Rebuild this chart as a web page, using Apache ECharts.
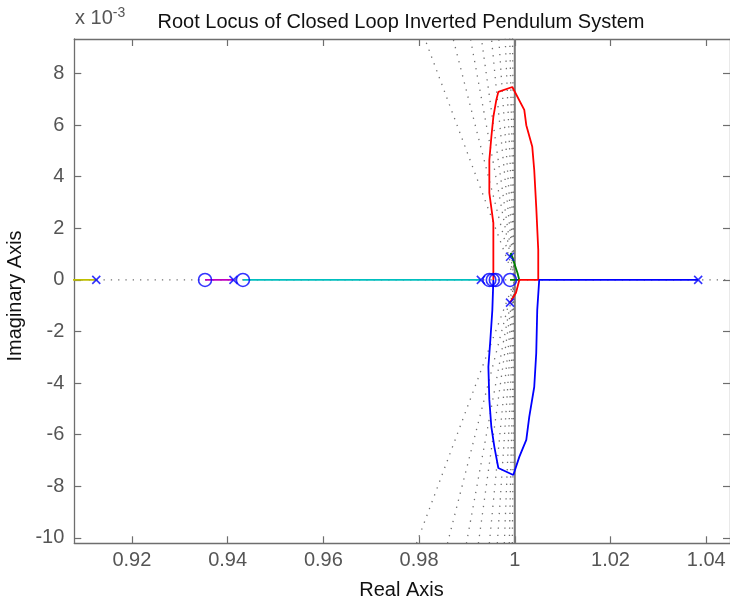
<!DOCTYPE html>
<html>
<head>
<meta charset="utf-8">
<script src="https://cdn.jsdelivr.net/npm/echarts@6/dist/echarts.min.js"></script>
<style>
html,body{margin:0;padding:0;background:#fff;}
#c{width:730px;height:604px;}
</style>
</head>
<body>
<div id="c"></div>
<script>
// ---- axis ranges and ticks (y in units of 1e-3) ----
const xRange = [0.90797, 1.04496];
const yRange = [-10.21, 9.34];
const xTicks = [0.92, 0.94, 0.96, 0.98, 1, 1.02, 1.04];
const yTicks = [-10, -8, -6, -4, -2, 0, 2, 4, 6, 8];

// ---- root locus branches (x, y*1e3) ----
const branchYellow = [[0.900, 0], [0.91256, 0]];
const branchMagenta = [[0.94122, 0], [0.93528, 0]];
const branchCyan = [[0.99291, 0], [0.94320, 0]];
const branchGreen = [[0.99900, 0.90], [0.99921, 1.03], [1.00058, 0.26], [1.00094, 0], [0.99900, 0]];
const branchRed = [[0.99900, -0.88], [1.00025, -0.50], [1.00094, 0], [1.00490, 0], [1.00490, 1.16],
  [1.00448, 2.83], [1.00406, 4.26], [1.00365, 5.16], [1.00240, 6.00], [1.00198, 6.59],
  [0.99948, 7.48], [0.99656, 7.29], [0.99614, 6.98], [0.99552, 6.32], [0.99510, 5.54],
  [0.99468, 4.65], [0.99468, 3.37], [0.99552, 2.21], [0.99552, 0]];
const branchBlue = [[1.03831, 0], [1.00510, 0], [1.00469, -1.16], [1.00448, -2.83], [1.00406, -4.15],
  [1.00302, -5.31], [1.00240, -6.20], [1.00094, -6.86], [0.99969, -7.56], [0.99656, -7.29],
  [0.99573, -6.47], [0.99510, -5.70], [0.99468, -4.65], [0.99448, -3.37], [0.99489, -2.33],
  [0.99531, -1.16], [0.99552, 0]];

// ---- open-loop poles and zeros ----
const poles = [[0.91256, 0], [0.94122, 0], [0.99291, 0], [0.99900, 0.90], [0.99900, -0.88], [1.03831, 0]];
const zeros = [[0.93528, 0], [0.94320, 0], [0.99468, 0], [0.99541, 0], [0.99604, 0], [0.99900, 0]];

// ---- z-plane damping grid: x where each zeta line meets y = +/-gridEdge ----
const zetaEndX = [0.97947, 0.98593, 0.98989, 0.99239, 0.99468, 0.99635, 0.99781, 0.99885, 0.99948];
const gridEdge = 10.21;

const FONT = '"Liberation Sans", Arial, Helvetica, sans-serif';
const chart = echarts.init(document.getElementById('c'));

const series = [];
zetaEndX.forEach(function (xe) {
  series.push({
    type: 'line', data: [[xe, -gridEdge], [1, 0], [xe, gridEdge]],
    symbol: 'none', silent: true, z: 1,
    lineStyle: { color: '#707070', width: 1.3, type: [1.3, 6] }
  });
});
series.push({
  type: 'line', data: [[xRange[0], 0], [xRange[1], 0]], symbol: 'none', silent: true, z: 1,
  lineStyle: { color: '#707070', width: 1.3, type: [1.3, 6] }
});
series.push({
  type: 'line', data: [[1, yRange[0]], [1, yRange[1]]], symbol: 'none', silent: true, z: 1,
  lineStyle: { color: '#7a7a7a', width: 2 }
});
function branch(d, c) {
  return { type: 'line', data: d, symbol: 'none', z: 3, lineStyle: { color: c, width: 1.8 } };
}
series.push(branch(branchYellow, '#bfbf00'));
series.push(branch(branchMagenta, '#bf00bf'));
series.push(branch(branchCyan, '#00bfbf'));
series.push(branch(branchGreen, '#008000'));
series.push(branch(branchRed, '#ff0000'));
series.push(branch(branchBlue, '#0000ff'));
series.push({
  type: 'scatter', data: zeros, symbol: 'circle', symbolSize: 13, z: 5,
  itemStyle: { color: 'rgba(0,0,0,0)', borderColor: '#0000ff', borderWidth: 1.6 }
});
series.push({
  type: 'scatter', data: poles, symbol: 'path://M0,0L10,10M10,0L0,10', symbolSize: 8, z: 5,
  itemStyle: { color: 'none', borderColor: '#0000ff', borderWidth: 1.6 }
});

const axisLine = { show: true, onZero: false, lineStyle: { color: '#6e6e6e', width: 1.3 } };
const tickStyle = { lineStyle: { color: '#6e6e6e', width: 1.2 } };

chart.setOption({
  animation: false,
  backgroundColor: '#fff',
  grid: { left: 74.3, top: 39, right: -1.5, bottom: 60.7, containLabel: false },
  xAxis: [
    {
      type: 'value', position: 'bottom', min: xRange[0], max: xRange[1],
      axisLine: axisLine, splitLine: { show: false },
      axisTick: Object.assign({ show: true, inside: true, length: 7, customValues: xTicks }, tickStyle),
      axisLabel: { customValues: xTicks, margin: 7, color: '#555', fontSize: 20, fontFamily: FONT }
    },
    {
      type: 'value', position: 'top', min: xRange[0], max: xRange[1],
      axisLine: axisLine, splitLine: { show: false },
      axisTick: Object.assign({ show: true, inside: true, length: 7, customValues: xTicks }, tickStyle),
      axisLabel: { show: false }
    }
  ],
  yAxis: [
    {
      type: 'value', position: 'left', min: yRange[0], max: yRange[1],
      axisLine: axisLine, splitLine: { show: false },
      axisTick: Object.assign({ show: true, inside: true, length: 7, customValues: yTicks }, tickStyle),
      axisLabel: { customValues: yTicks, margin: 10, color: '#555', fontSize: 20, fontFamily: FONT }
    },
    {
      type: 'value', position: 'right', min: yRange[0], max: yRange[1],
      axisLine: axisLine, splitLine: { show: false },
      axisTick: Object.assign({ show: true, inside: true, length: 7, customValues: yTicks }, tickStyle),
      axisLabel: { show: false }
    }
  ],
  graphic: [
    {
      type: 'text', left: 'auto', x: 401, y: 22.5, z: 10,
      style: { text: 'Root Locus of Closed Loop Inverted Pendulum System', fill: '#111',
        font: '20px ' + FONT, textAlign: 'center', textVerticalAlign: 'middle' }
    },
    {
      type: 'text', x: 75, y: 30, z: 10,
      style: { text: 'x 10{s|-3}', fill: '#555', font: '20px ' + FONT,
        textAlign: 'left', textVerticalAlign: 'bottom',
        rich: { s: { fontSize: 14, fontFamily: FONT, fill: '#555', verticalAlign: 'top', padding: [0, 0, 10, 0] } } }
    },
    {
      type: 'text', x: 401.5, y: 590, z: 10,
      style: { text: 'Real Axis', fill: '#111', font: '20px ' + FONT, textAlign: 'center', textVerticalAlign: 'middle' }
    },
    {
      type: 'text', x: 15, y: 296, rotation: Math.PI / 2, z: 10,
      style: { text: 'Imaginary Axis', fill: '#111', font: '20px ' + FONT, textAlign: 'center', textVerticalAlign: 'middle' }
    }
  ],
  series: series.map(function (s) { return Object.assign({ xAxisIndex: 0, yAxisIndex: 0 }, s); })
});
</script>
</body>
</html>
